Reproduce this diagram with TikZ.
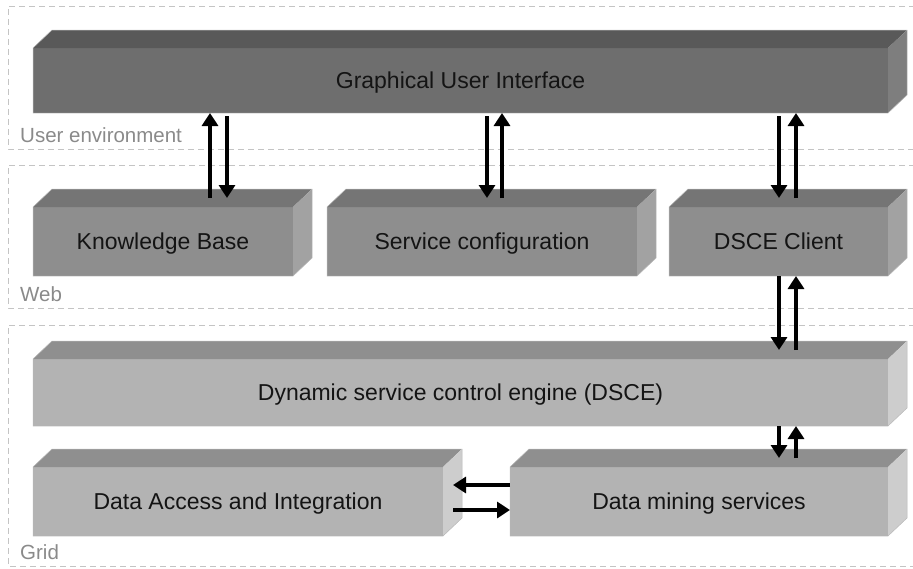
\documentclass[tikz,border=0pt]{standalone}
\usepackage{fontspec}
\setmainfont{Liberation Sans}
\usetikzlibrary{arrows.meta,calc}

\definecolor{guifront}{HTML}{6E6E6E}
\definecolor{guitop}{HTML}{595959}
\definecolor{guiside}{HTML}{7E7E7E}
\definecolor{webfront}{HTML}{8E8E8E}
\definecolor{webtop}{HTML}{757575}
\definecolor{webside}{HTML}{A2A2A2}
\definecolor{gridfront}{HTML}{B3B3B3}
\definecolor{gridtop}{HTML}{8F8F8F}
\definecolor{gridside}{HTML}{CDCDCD}
\definecolor{framegray}{HTML}{C4C4C4}
\definecolor{labelgray}{HTML}{8A8A8A}
\definecolor{edgegray}{HTML}{B8B8B8}

% top and right faces of a block whose front face is node #1
\newcommand\prismfaces[3]{%
  \fill[#2] (#1.north west) -- ++(19,-18) -- ($(#1.north east)+(19,-18)$) -- (#1.north east) -- cycle;
  \fill[#3] (#1.north east) -- ++(19,-18) -- ($(#1.south east)+(19,-18)$) -- (#1.south east) -- cycle;
  \draw[edgegray, line width=0.5pt] (#1.south west) -- (#1.north west) -- ++(19,-18) -- ($(#1.north east)+(19,-18)$) -- ($(#1.south east)+(19,-18)$) -- (#1.south east) -- cycle;
}

\begin{document}
\begin{tikzpicture}[x=1pt,y=-1pt,
  front/.style={anchor=north west, inner sep=0pt, outer sep=0pt,
    text height=16.5pt, text depth=0pt,
    font=\fontsize{23}{26}\selectfont, text=black!92},
  zone/.style={draw=framegray, line width=1pt, dash pattern=on 6pt off 4pt},
  zonelabel/.style={anchor=base west, inner sep=0pt, text=labelgray,
    font=\fontsize{20.5}{24}\selectfont},
  arr/.style={line width=4.6pt, -{Triangle[width=16pt,length=13pt]}}]
\useasboundingbox (0,0) rectangle (913,568);

% layer frames
\draw[zone] (925,6) -- (8,6) -- (8,149) -- (925,149);
\draw[zone] (925,165) -- (8,165) -- (8,308) -- (925,308);
\draw[zone] (925,325) -- (8,325) -- (8,566) -- (925,566);
\node[zonelabel] (lue) at (20,142) {User environment};
\node[zonelabel] (lweb) at (20,301) {Web};
\node[zonelabel] (lgrid) at (20,559) {Grid};

% user environment
\node[front, fill=guifront, minimum width=855pt, minimum height=65pt] (gui) at (33,48) {Graphical User Interface};
\prismfaces{gui}{guitop}{guiside}

% web
\node[front, fill=webfront, minimum width=260pt, minimum height=69pt] (kb) at (33,207) {Knowledge Base};
\prismfaces{kb}{webtop}{webside}
\node[front, fill=webfront, minimum width=310pt, minimum height=69pt] (sc) at (327,207) {Service configuration};
\prismfaces{sc}{webtop}{webside}
\node[front, fill=webfront, minimum width=219pt, minimum height=69pt] (cl) at (669,207) {DSCE Client};
\prismfaces{cl}{webtop}{webside}

% grid
\node[front, fill=gridfront, minimum width=855pt, minimum height=67pt] (dsce) at (33,359) {Dynamic service control engine (DSCE)};
\prismfaces{dsce}{gridtop}{gridside}
\node[front, fill=gridfront, minimum width=410pt, minimum height=69pt] (da) at (33,467) {Data Access and Integration};
\prismfaces{da}{gridtop}{gridside}
\node[front, fill=gridfront, minimum width=378pt, minimum height=69pt] (dm) at (510,467) {Data mining services};
\prismfaces{dm}{gridtop}{gridside}

% GUI <-> Knowledge Base
\draw[arr] ($(kb.north west)+(177,-9)$) -- ($(gui.south west)+(177,0)$);
\draw[arr] ($(gui.south west)+(194,3)$) -- ($(kb.north west)+(194,-9)$);
% GUI <-> Service configuration
\draw[arr] ($(gui.south west)+(454,3)$) -- ($(sc.north west)+(160,-9)$);
\draw[arr] ($(sc.north west)+(175,-9)$) -- ($(gui.south west)+(469,0)$);
% GUI <-> DSCE Client
\draw[arr] ($(gui.south west)+(746,3)$) -- ($(cl.north west)+(110,-9)$);
\draw[arr] ($(cl.north west)+(127,-9)$) -- ($(gui.south west)+(763,0)$);
% DSCE Client <-> DSCE
\draw[arr] ($(cl.south west)+(110,0)$) -- ($(dsce.north west)+(746,-9)$);
\draw[arr] ($(dsce.north west)+(763,-9)$) -- ($(cl.south west)+(127,0)$);
% DSCE <-> Data mining services
\draw[arr] ($(dsce.south west)+(746,0)$) -- ($(dm.north west)+(269,-9)$);
\draw[arr] ($(dm.north west)+(286,-9)$) -- ($(dsce.south west)+(763,0)$);
% Data mining services <-> Data Access and Integration
\draw[arr] ($(dm.north west)+(0,18)$) -- ($(da.north east)+(10,18)$);
\draw[arr] ($(da.north east)+(10,43)$) -- ($(dm.north west)+(0,43)$);
\end{tikzpicture}
\end{document}
